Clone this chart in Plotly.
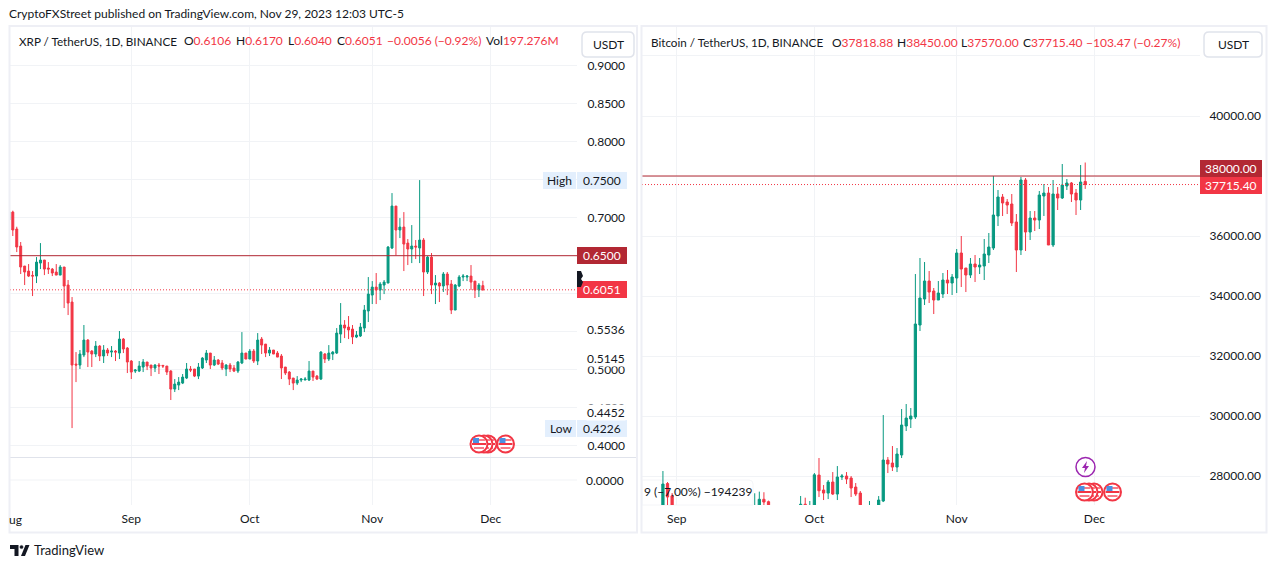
import pandas as pd
import plotly.graph_objects as go

# --- XRP / USDT daily candles, Aug 1 to Nov 29 2023 ---
xrp_dates = pd.date_range("2023-08-01", "2023-11-29", freq="D")
xrp_open = [
    .6969, .7074, .6851, .6627, .6364, .6298, .6241, .6232, .6403, .6443,
    .6338, .6324, .6285, .6245, .6351, .6114, .5890, .5074, .5061, .5193,
    .5390, .5245, .5206, .5311, .5180, .5259, .5232, .5245, .5219, .5403,
    .5285, .5114, .4982, .4982, .5035, .5101, .5061, .5022, .5061, .5057,
    .5048, .4982, .4745, .4798, .4824, .4890, .5009, .5009, .4916, .5022,
    .5127, .5219, .5061, .5127, .5088, .5009, .5061, .5022, .4982, .5088,
    .5219, .5140, .5245, .5114, .5403, .5337, .5219, .5259, .5219, .5180,
    .5035, .4969, .4890, .4824, .4864, .4864, .4864, .4982, .4916, .4877,
    .5206, .5140, .5206, .5219, .5469, .5588, .5561, .5535, .5430, .5443,
    .5548, .5772, .5982, .6087, .6048, .6114, .6140, .6601, .7153, .6838,
    .6877, .6666, .6588, .6627, .6601, .6706, .6285, .6482, .6114, .6140,
    .6101, .6259, .6127, .5785, .6101, .6219, .6219, .6232, .6166, .6048,
    .6106,
]
xrp_high = [
    .7079, .7092, .6881, .6680, .6364, .6390, .6298, .6482, .6666, .6443,
    .6416, .6338, .6390, .6377, .6351, .6180, .5956, .5232, .5259, .5588,
    .5403, .5259, .5377, .5324, .5324, .5285, .5311, .5259, .5509, .5416,
    .5298, .5127, .5009, .5114, .5140, .5101, .5061, .5074, .5088, .5061,
    .5048, .4995, .4877, .4903, .4943, .5088, .5048, .5009, .5088, .5166,
    .5259, .5219, .5180, .5140, .5127, .5074, .5088, .5061, .5114, .5495,
    .5219, .5272, .5272, .5482, .5430, .5337, .5298, .5259, .5245, .5206,
    .5035, .4982, .4890, .4916, .4890, .4903, .5114, .4982, .4930, .5245,
    .5219, .5324, .5245, .5548, .5877, .5653, .5706, .5588, .5509, .5614,
    .5851, .6219, .6166, .6272, .6153, .6180, .6627, .7324, .7153, .6995,
    .7074, .6719, .6903, .6706, .7495, .6732, .6495, .6535, .6245, .6153,
    .6285, .6285, .6180, .6127, .6245, .6259, .6245, .6377, .6166, .6140,
    .6170,
]
xrp_low = [
    .6969, .6759, .6548, .6259, .6114, .6219, .5969, .6140, .6324, .6245,
    .6259, .6232, .6245, .6245, .5811, .5719, .4232, .4837, .5009, .5166,
    .5035, .5035, .5166, .5114, .5088, .5180, .5166, .5114, .5140, .5219,
    .4956, .4877, .4956, .4969, .4969, .4995, .4916, .4969, .4943, .5022,
    .4930, .4601, .4706, .4732, .4811, .4877, .4969, .4903, .4877, .5009,
    .5088, .5009, .5048, .5061, .4995, .4916, .4969, .4969, .4956, .5074,
    .5140, .5140, .5088, .5061, .5206, .5166, .5180, .5206, .5166, .4877,
    .4930, .4798, .4732, .4798, .4837, .4864, .4851, .4851, .4864, .4864,
    .5088, .5114, .5127, .5206, .5351, .5416, .5403, .5337, .5416, .5430,
    .5495, .5627, .5864, .5864, .5916, .5995, .6140, .6588, .6504, .6732,
    .6298, .6377, .6403, .6456, .6403, .5969, .6259, .5995, .5864, .5890,
    .6022, .5982, .5732, .5785, .6087, .6166, .6166, .6048, .5943, .5956,
    .6040,
]
xrp_close = [
    .7079, .6838, .6614, .6351, .6285, .6232, .6232, .6416, .6443, .6324,
    .6324, .6272, .6245, .6351, .6101, .5877, .5061, .5061, .5206, .5390,
    .5232, .5206, .5311, .5180, .5259, .5219, .5245, .5232, .5403, .5272,
    .5101, .4969, .4995, .5048, .5101, .5048, .5022, .5061, .5048, .5048,
    .4969, .4745, .4811, .4837, .4903, .5009, .4995, .4916, .5035, .5153,
    .5219, .5061, .5127, .5074, .5022, .5061, .5009, .4982, .5101, .5219,
    .5140, .5245, .5114, .5390, .5324, .5219, .5259, .5206, .5166, .5022,
    .4956, .4877, .4824, .4864, .4877, .4877, .4982, .4903, .4877, .5232,
    .5140, .5219, .5232, .5482, .5588, .5548, .5522, .5430, .5456, .5561,
    .5785, .5995, .6087, .6048, .6127, .6153, .6614, .7153, .6838, .6877,
    .6653, .6588, .6627, .6614, .6706, .6285, .6482, .6114, .6140, .6101,
    .6259, .6114, .5785, .6114, .6219, .6232, .6232, .6153, .6048, .6114,
    .6051,
]
xrp_ticks = [.90, .85, .80, .75, .70, .65, .60, .55, .50, .45, .40]
xrp_labels = ["0.9000", "0.8500", "0.8000", "", "0.7000", "", "", "", "0.5000", "0.4500", "0.4000"]
xrp_resistance = 0.65
xrp_last = 0.6051

# --- BTC / USDT daily candles, Aug 29 to Nov 29 2023 ---
btc_dates = pd.date_range("2023-08-29", "2023-11-29", freq="D")
btc_open = [
    26100, 27750, 27340,
    25940, 25800, 25870, 25970, 25820, 25790, 25755, 26240, 25905, 25895,
    25830, 25160, 25840, 26220, 26530, 26610, 26570, 26530, 26760, 27225,
    27145, 26570, 26580, 26580, 26250, 26300, 26210, 26350, 27060, 26900,
    26960, 28033, 27533, 27433, 27800, 27400, 27967, 28000, 27933, 27633,
    27433, 26870, 26760, 26860, 26870, 27167, 28533, 28433, 28300, 28700,
    29667, 29900, 29967, 33033, 33900, 34500, 34167, 33867, 34067, 34533,
    34433,
    34600, 35433, 34933, 34700, 35067, 34967, 35000, 35367, 35600, 36667,
    37300, 37133, 37067, 36467, 35533, 37867, 36133, 36600, 36533, 37333,
    37433, 35700, 37400, 37267, 37667, 37767, 37433, 37200, 37818.88,
]
btc_high = [
    28167, 27800, 27433,
    26120, 25970, 26120, 26100, 25880, 26020, 26450, 26440, 25945, 25980,
    25880, 26560, 26400, 26860, 26840, 26780, 26620, 27425, 27480, 27460,
    27180, 26740, 26640, 26740, 26430, 26390, 26820, 27335, 27278, 27167,
    28100, 28600, 27700, 27867, 28133, 28333, 28067, 28133, 28000, 27767,
    27500, 26930, 27167, 26980, 27333, 30033, 28633, 29000, 28933, 30233,
    30400, 30267, 34733, 35267, 35133, 34833, 34267, 34500, 34767, 34867,
    34733,
    35567, 36000, 34933, 35267, 35367, 35267, 35900, 36100, 38000, 37533,
    37400, 37233, 37400, 36733, 37967, 37933, 36833, 36833, 37500, 37733,
    37633, 37867, 37633, 38400, 37900, 37800, 37567, 38367, 38450,
]
btc_low = [
    25900, 27020, 25700,
    25330, 25720, 25750, 25600, 25570, 25400, 25620, 25650, 25800, 25550,
    24900, 25130, 25760, 26130, 26220, 26470, 26400, 26400, 26670, 26800,
    26350, 26500, 26520, 26130, 26000, 26100, 26110, 26320, 26670, 26880,
    26950, 27300, 27200, 27233, 27367, 27200, 27867, 27733, 27300, 27333,
    26550, 26560, 26660, 26810, 26800, 27133, 28100, 28167, 28133, 28600,
    29500, 29600, 29900, 32833, 33700, 33767, 33400, 33867, 33933, 34067,
    34033,
    34100, 34300, 34133, 34600, 34467, 34733, 34533, 35100, 35533, 36333,
    36667, 36733, 36333, 34800, 35367, 35500, 35867, 36167, 36233, 36667,
    35700, 35633, 36867, 37233, 37533, 37133, 36700, 36867, 37570,
]
btc_close = [
    27733, 27300, 25940,
    25800, 25870, 25970, 25820, 25790, 25755, 26240, 25905, 25895, 25830,
    25160, 25840, 26220, 26530, 26610, 26570, 26530, 26760, 27225, 27133,
    26570, 26580, 26575, 26250, 26300, 26210, 26350, 27060, 26900, 26960,
    28040, 27510, 27433, 27800, 27400, 27967, 28000, 27900, 27600, 27400,
    26870, 26760, 26860, 26870, 27200, 28533, 28400, 28300, 28733, 29700,
    29933, 30000, 33067, 33933, 34500, 34133, 33867, 34100, 34533, 34433,
    34633,
    35433, 34900, 34700, 35067, 34967, 35033, 35400, 35633, 36700, 37300,
    37100, 37033, 36433, 35533, 37867, 36133, 36600, 36533, 37367, 37433,
    35700, 37400, 37267, 37700, 37767, 37400, 37200, 37800, 37715.40,
]
btc_ticks = [42000, 40000, 38000, 36000, 34000, 32000, 30000, 28000]
btc_labels = ["", "40000.00", "", "36000.00", "34000.00", "32000.00", "30000.00", "28000.00"]
btc_resistance = 38000
btc_last = 37715.40

month_ticks = ["2023-09-01", "2023-10-01", "2023-11-01", "2023-12-01"]
month_labels = ["Sep", "Oct", "Nov", "Dec"]

UP = "#089981"
DOWN = "#f23645"
LEVEL = "#b22833"
TEXT = "#131722"
GRID = "#f1f3f6"
FRAME = "#eeeff5"
FONT = "Lato"
W, H = 1276, 568


def fx(x):
    return x / W


def fy(y):
    return 1 - y / H


shapes = []
annotations = []


def label(x, y, text, color=TEXT, size=12, anchor="left", bg=None):
    annotations.append(dict(
        x=fx(x), y=fy(y), xref="paper", yref="paper", text=text, showarrow=False,
        xanchor=anchor, yanchor="middle", bgcolor=bg, borderpad=0,
        font=dict(family=FONT, size=size, color=color),
    ))


def box(x0, y0, x1, y1, fill="rgba(0,0,0,0)", line=None, width=1, layer="above"):
    shapes.append(dict(
        type="rect", xref="paper", yref="paper", x0=fx(x0), x1=fx(x1), y0=fy(y0), y1=fy(y1),
        fillcolor=fill, line=dict(color=line, width=width if line else 0), layer=layer,
    ))


def badge(x0, y0, x1, y1, fill, text, color):
    box(x0, y0, x1, y1, fill=fill)
    label((x0 + x1) / 2, (y0 + y1) / 2 - 0.5, text, color=color, anchor="center")


def path(points, fill, line=None, width=1, layer="above"):
    d = "M" + " L".join(f"{fx(x):.5f},{fy(y):.5f}" for x, y in points) + " Z"
    shapes.append(dict(
        type="path", xref="paper", yref="paper", path=d, fillcolor=fill,
        line=dict(color=line, width=width if line else 0), layer=layer,
    ))


def circle(cx, cy, r, fill, line, width=2):
    shapes.append(dict(
        type="circle", xref="paper", yref="paper", x0=fx(cx - r), x1=fx(cx + r),
        y0=fy(cy - r), y1=fy(cy + r), fillcolor=fill, line=dict(color=line, width=width),
    ))


def flag(cx, cy):
    circle(cx, cy, 8.5, "#ffffff", DOWN)
    box(cx - 6, cy - 5, cx + 6, cy - 3, fill="#f77c88")
    box(cx - 7, cy - 1, cx + 7, cy + 1, fill=DOWN)
    box(cx - 5, cy + 3, cx + 5, cy + 5, fill="#f77c88")
    box(cx - 6, cy - 6, cx, cy - 1, fill="#4a90e2")


def rounded(x0, y0, x1, y1, r, line):
    d = (f"M{fx(x0 + r)},{fy(y0)} L{fx(x1 - r)},{fy(y0)} Q{fx(x1)},{fy(y0)} {fx(x1)},{fy(y0 + r)} "
         f"L{fx(x1)},{fy(y1 - r)} Q{fx(x1)},{fy(y1)} {fx(x1 - r)},{fy(y1)} "
         f"L{fx(x0 + r)},{fy(y1)} Q{fx(x0)},{fy(y1)} {fx(x0)},{fy(y1 - r)} "
         f"L{fx(x0)},{fy(y0 + r)} Q{fx(x0)},{fy(y0)} {fx(x0 + r)},{fy(y0)} Z")
    shapes.append(dict(type="path", xref="paper", yref="paper", path=d,
                       fillcolor="#ffffff", line=dict(color=line, width=1.5)))


# --- Panes ---
TOP, BOTTOM = 27, 505
L0, L1 = 10, 577
R0, R1 = 642, 1200

sep1 = pd.Timestamp("2023-09-01")
left_range = [sep1 + pd.Timedelta(days=(L0 - 131.3) / 3.95), sep1 + pd.Timedelta(days=(L1 - 131.3) / 3.95)]
right_range = [sep1 + pd.Timedelta(days=(R0 - 676.7) / 4.59), sep1 + pd.Timedelta(days=(R1 - 676.7) / 4.59)]

fig = go.Figure()


def candles(dates, o, h, l, c, xa, ya):
    fig.add_trace(go.Candlestick(
        x=dates, open=o, high=h, low=l, close=c, xaxis=xa, yaxis=ya,
        increasing=dict(line=dict(color=UP, width=1), fillcolor=UP),
        decreasing=dict(line=dict(color=DOWN, width=1), fillcolor=DOWN),
        whiskerwidth=0, showlegend=False,
    ))


candles(xrp_dates, xrp_open, xrp_high, xrp_low, xrp_close, "x", "y")
candles(btc_dates, btc_open, btc_high, btc_low, btc_close, "x2", "y2")


def x_axis(dom, rng, anchor):
    return dict(
        domain=[fx(dom[0]), fx(dom[1])], range=rng, anchor=anchor, type="date",
        tickmode="array", tickvals=month_ticks, ticktext=month_labels,
        ticks="outside", ticklen=3, tickcolor="rgba(0,0,0,0)",
        showgrid=True, gridcolor=GRID, gridwidth=1, zeroline=False, showline=False,
        rangeslider=dict(visible=False), tickfont=dict(family=FONT, size=12, color=TEXT),
    )


def y_axis(rng, anchor, ticks, labels, ticklen):
    return dict(
        domain=[fy(BOTTOM), fy(TOP)], range=rng, anchor=anchor, side="right",
        tickmode="array", tickvals=ticks, ticktext=labels,
        ticks="outside", ticklen=ticklen, tickcolor="rgba(0,0,0,0)",
        showgrid=True, gridcolor=GRID, gridwidth=1, zeroline=False, showline=False,
        tickfont=dict(family=FONT, size=12, color=TEXT),
    )


# --- Level lines ---
for xa, x0, x1, val, color, dash in [
    ("y", L0, L1, xrp_resistance, LEVEL, "solid"),
    ("y", L0, L1, xrp_last, DOWN, "1px,2px"),
    ("y2", R0, R1, btc_resistance, LEVEL, "solid"),
    ("y2", R0, R1, btc_last, DOWN, "1px,2px"),
]:
    shapes.append(dict(type="line", xref="paper", yref=xa, x0=fx(x0), x1=fx(x1), y0=val, y1=val,
                       line=dict(color=color, width=1, dash=dash)))

# --- Left pane extras: lower pane and price labels ---
shapes.append(dict(type="line", xref="paper", yref="paper", x0=fx(L0), x1=fx(637), y0=fy(457.5), y1=fy(457.5),
                   line=dict(color="#e0e3eb", width=1)))
shapes.append(dict(type="line", xref="paper", yref="paper", x0=fx(L0), x1=fx(L1), y0=fy(480), y1=fy(480),
                   line=dict(color=GRID, width=1), layer="below"))
label(585, 480, "0.0000")
label(586, 329, "0.5536", bg="#ffffff")
label(586, 358, "0.5145", bg="#ffffff")
label(586, 412, "0.4452", bg="#ffffff")
badge(543, 172, 576, 189, "#e3effd", "High", TEXT)
badge(577, 172, 627, 189, "#e3effd", "0.7500", TEXT)
badge(577, 247, 627, 264, LEVEL, "0.6500", "#ffffff")
badge(577, 281, 627, 298, DOWN, "0.6051", "#ffffff")
badge(545, 420, 576, 437, "#e3effd", "Low", TEXT)
badge(577, 420, 627, 437, "#e3effd", "0.4226", TEXT)
path([(577, 271), (581, 271), (583, 276), (581, 279), (583, 282), (581, 287), (577, 287)], TEXT)

# --- Right pane extras ---
badge(1200, 160, 1262, 177, LEVEL, "38000.00", "#ffffff")
badge(1200, 177, 1262, 194, DOWN, "37715.40", "#ffffff")
shapes.append(dict(type="path", xref="paper", yref="paper", layer="below",
                   path=f"M{fx(642)},{fy(480)} L{fx(749)},{fy(480)} Q{fx(753)},{fy(480)} {fx(753)},{fy(484)} L{fx(753)},{fy(505)} L{fx(642)},{fy(505)} Z",
                   fillcolor="#ffffff", line=dict(color="#f4f5f8", width=1)))
label(643, 491, "9 (−7,00%) −194239", size=12)
shapes_flags = [(488, 444), (484, 444), (479, 444), (505.5, 444),
                (1094, 492), (1089, 492), (1084.5, 492), (1112.5, 492)]
for cx, cy in shapes_flags:
    flag(cx, cy)
circle(1085.5, 467, 9.5, "#ffffff", "#9c27b0", width=1.5)
path([(1087, 461), (1082, 468), (1085, 468), (1084, 473), (1089, 466), (1086, 466)], "#9c27b0")

# --- Headers ---
label(8, 14, "CryptoFXStreet published on TradingView.com, Nov 29, 2023 12:03 UTC-5")

label(18, 41, "XRP / TetherUS, 1D, BINANCE", size=11.7)
xrp_header = [(183, "O", "0.6106"), (235, "H", "0.6170"), (287, "L", "0.6040"), (336, "C", "0.6051")]
for x, k, v in xrp_header:
    label(x, 41, f'{k}<span style="color:{DOWN}">{v}</span>')
label(386, 41, "−0.0056 (−0.92%)", color=DOWN)
label(485, 41, f'Vol<span style="color:{DOWN}">197.276M</span>')

label(650, 42, "Bitcoin / TetherUS, 1D, BINANCE", size=11.7)
btc_header = [(831, "O", "37818.88"), (896, "H", "38450.00"), (960, "L", "37570.00"), (1022, "C", "37715.40")]
for x, k, v in btc_header:
    label(x, 42, f'{k}<span style="color:{DOWN}">{v}</span>')
label(1085, 42, "−103.47 (−0.27%)", color=DOWN)

rounded(582, 32, 634, 57, 5, "#e0e3eb")
label(608, 44.5, "USDT", anchor="center")
rounded(1204, 32, 1262, 57, 5, "#e0e3eb")
label(1233, 44.5, "USDT", anchor="center")

label(8, 519, "ug")

# --- Pane frames ---
box(9.5, 26, 637, 532.5, line=FRAME, width=2)
box(641.5, 26, 1266.5, 532.5, line=FRAME, width=2)

# --- TradingView mark ---
path([(10, 545), (18.5, 545), (18.5, 556), (14.5, 556), (14.5, 549), (10, 549)], TEXT)
circle(21.5, 547, 1.6, TEXT, TEXT, width=0.5)
path([(21, 556), (25.5, 545), (29.5, 545), (25, 556)], TEXT)
label(33, 550, "TradingView", size=13)

fig.update_layout(
    width=W, height=H, margin=dict(l=0, r=0, t=0, b=0),
    paper_bgcolor="#ffffff", plot_bgcolor="rgba(0,0,0,0)",
    showlegend=False, dragmode=False,
    font=dict(family=FONT, size=12, color=TEXT),
    xaxis=x_axis((L0, L1), left_range, "y"),
    yaxis=y_axis([0.65 - (BOTTOM - 255.7) / 760, 0.65 + (255.7 - TOP) / 760], "x", xrp_ticks, xrp_labels, 7),
    xaxis2=x_axis((R0, R1), right_range, "y2"),
    yaxis2=y_axis([40000 - (BOTTOM - 116) * 33.33, 40000 + (116 - TOP) * 33.33], "x2", btc_ticks, btc_labels, 6),
    shapes=shapes, annotations=annotations,
)

fig.write_html("out.html", config={"displayModeBar": False},
               post_script="document.body.style.margin='0';")
